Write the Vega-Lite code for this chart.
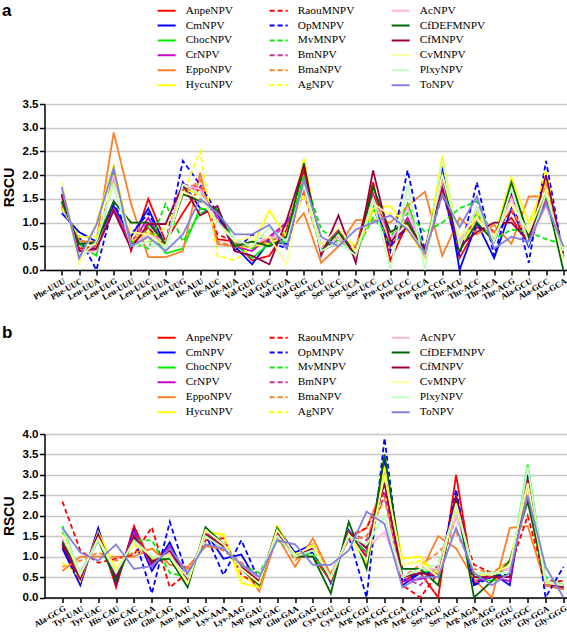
{
"$schema": "https://vega.github.io/schema/vega-lite/v6.json",
"padding": {"left": 1.5, "top": 1, "right": 0, "bottom": 0},
"background": "white",
"config": {
  "view": {"stroke": null},
  "axis": {"domainColor": "#000", "domainWidth": 1.5, "tickColor": "#000", "tickWidth": 1.5, "tickSize": 5, "labelColor": "#000", "titleColor": "#000"},
  "title": {"font": "Liberation Sans", "fontSize": 17, "fontWeight": "bold", "anchor": "start", "frame": "bounds", "baseline": "alphabetic", "color": "#000"},
  "legend": {"title": null, "orient": "none", "columns": 3, "direction": "vertical", "symbolType": "M-2,0H2", "symbolSize": 81, "symbolStrokeWidth": 2, "labelOffset": 13.5, "columnPadding": 32, "rowPadding": 2.9, "labelFont": "Liberation Serif", "labelFontSize": 11.3, "labelColor": "#000", "gridAlign": "each"}
},
"spacing": 164,
"bounds": "flush",
"resolve": {"scale": {"color": "independent", "strokeDash": "independent", "x": "independent", "y": "independent"}, "legend": {"color": "independent", "strokeDash": "independent"}},
"datasets": {
"a": [
{"s":"AnpeNPV","i":0,"r":1.55},{"s":"AnpeNPV","i":1,"r":0.45},{"s":"AnpeNPV","i":2,"r":0.5},{"s":"AnpeNPV","i":3,"r":2.0},{"s":"AnpeNPV","i":4,"r":0.4},{"s":"AnpeNPV","i":5,"r":1.5},{"s":"AnpeNPV","i":6,"r":0.6},{"s":"AnpeNPV","i":7,"r":1.2},{"s":"AnpeNPV","i":8,"r":1.75},{"s":"AnpeNPV","i":9,"r":0.65},{"s":"AnpeNPV","i":10,"r":0.6},{"s":"AnpeNPV","i":11,"r":0.2},{"s":"AnpeNPV","i":12,"r":0.3},{"s":"AnpeNPV","i":13,"r":0.85},{"s":"AnpeNPV","i":14,"r":2.1},{"s":"AnpeNPV","i":15,"r":0.4},{"s":"AnpeNPV","i":16,"r":0.6},{"s":"AnpeNPV","i":17,"r":0.45},{"s":"AnpeNPV","i":18,"r":1.85},{"s":"AnpeNPV","i":19,"r":0.2},{"s":"AnpeNPV","i":20,"r":1.0},{"s":"AnpeNPV","i":21,"r":0.3},{"s":"AnpeNPV","i":22,"r":1.75},{"s":"AnpeNPV","i":23,"r":0.25},{"s":"AnpeNPV","i":24,"r":0.9},{"s":"AnpeNPV","i":25,"r":0.8},{"s":"AnpeNPV","i":26,"r":1.1},{"s":"AnpeNPV","i":27,"r":0.55},{"s":"AnpeNPV","i":28,"r":1.6},{"s":"AnpeNPV","i":29,"r":0.3},
{"s":"CmNPV","i":0,"r":1.2},{"s":"CmNPV","i":1,"r":0.8},{"s":"CmNPV","i":2,"r":0.6},{"s":"CmNPV","i":3,"r":1.35},{"s":"CmNPV","i":4,"r":0.7},{"s":"CmNPV","i":5,"r":1.3},{"s":"CmNPV","i":6,"r":0.5},{"s":"CmNPV","i":7,"r":1.85},{"s":"CmNPV","i":8,"r":1.3},{"s":"CmNPV","i":9,"r":1.2},{"s":"CmNPV","i":10,"r":0.5},{"s":"CmNPV","i":11,"r":0.12},{"s":"CmNPV","i":12,"r":0.6},{"s":"CmNPV","i":13,"r":0.55},{"s":"CmNPV","i":14,"r":1.8},{"s":"CmNPV","i":15,"r":0.5},{"s":"CmNPV","i":16,"r":0.7},{"s":"CmNPV","i":17,"r":0.3},{"s":"CmNPV","i":18,"r":1.4},{"s":"CmNPV","i":19,"r":0.5},{"s":"CmNPV","i":20,"r":0.9},{"s":"CmNPV","i":21,"r":0.3},{"s":"CmNPV","i":22,"r":2.2},{"s":"CmNPV","i":23,"r":0.0},{"s":"CmNPV","i":24,"r":1.0},{"s":"CmNPV","i":25,"r":0.25},{"s":"CmNPV","i":26,"r":1.3},{"s":"CmNPV","i":27,"r":0.5},{"s":"CmNPV","i":28,"r":1.5},{"s":"CmNPV","i":29,"r":0.3},
{"s":"ChocNPV","i":0,"r":1.45},{"s":"ChocNPV","i":1,"r":0.55},{"s":"ChocNPV","i":2,"r":0.3},{"s":"ChocNPV","i":3,"r":2.1},{"s":"ChocNPV","i":4,"r":0.5},{"s":"ChocNPV","i":5,"r":0.9},{"s":"ChocNPV","i":6,"r":0.35},{"s":"ChocNPV","i":7,"r":0.45},{"s":"ChocNPV","i":8,"r":1.3},{"s":"ChocNPV","i":9,"r":1.25},{"s":"ChocNPV","i":10,"r":0.55},{"s":"ChocNPV","i":11,"r":0.25},{"s":"ChocNPV","i":12,"r":0.55},{"s":"ChocNPV","i":13,"r":0.6},{"s":"ChocNPV","i":14,"r":1.95},{"s":"ChocNPV","i":15,"r":0.45},{"s":"ChocNPV","i":16,"r":0.7},{"s":"ChocNPV","i":17,"r":0.3},{"s":"ChocNPV","i":18,"r":1.3},{"s":"ChocNPV","i":19,"r":0.5},{"s":"ChocNPV","i":20,"r":1.4},{"s":"ChocNPV","i":21,"r":0.35},{"s":"ChocNPV","i":22,"r":1.9},{"s":"ChocNPV","i":23,"r":0.6},{"s":"ChocNPV","i":24,"r":1.2},{"s":"ChocNPV","i":25,"r":0.6},{"s":"ChocNPV","i":26,"r":1.6},{"s":"ChocNPV","i":27,"r":0.6},{"s":"ChocNPV","i":28,"r":1.6},{"s":"ChocNPV","i":29,"r":0.3},
{"s":"CrNPV","i":0,"r":1.6},{"s":"CrNPV","i":1,"r":0.4},{"s":"CrNPV","i":2,"r":0.45},{"s":"CrNPV","i":3,"r":1.3},{"s":"CrNPV","i":4,"r":0.55},{"s":"CrNPV","i":5,"r":1.1},{"s":"CrNPV","i":6,"r":0.5},{"s":"CrNPV","i":7,"r":1.75},{"s":"CrNPV","i":8,"r":1.7},{"s":"CrNPV","i":9,"r":1.1},{"s":"CrNPV","i":10,"r":0.5},{"s":"CrNPV","i":11,"r":0.4},{"s":"CrNPV","i":12,"r":0.7},{"s":"CrNPV","i":13,"r":1.0},{"s":"CrNPV","i":14,"r":1.65},{"s":"CrNPV","i":15,"r":0.5},{"s":"CrNPV","i":16,"r":0.85},{"s":"CrNPV","i":17,"r":0.3},{"s":"CrNPV","i":18,"r":1.6},{"s":"CrNPV","i":19,"r":0.6},{"s":"CrNPV","i":20,"r":1.1},{"s":"CrNPV","i":21,"r":0.3},{"s":"CrNPV","i":22,"r":1.8},{"s":"CrNPV","i":23,"r":0.5},{"s":"CrNPV","i":24,"r":1.3},{"s":"CrNPV","i":25,"r":0.6},{"s":"CrNPV","i":26,"r":1.65},{"s":"CrNPV","i":27,"r":0.55},{"s":"CrNPV","i":28,"r":1.5},{"s":"CrNPV","i":29,"r":0.3},
{"s":"EppoNPV","i":0,"r":1.4},{"s":"EppoNPV","i":1,"r":0.6},{"s":"EppoNPV","i":2,"r":0.6},{"s":"EppoNPV","i":3,"r":2.9},{"s":"EppoNPV","i":4,"r":1.4},{"s":"EppoNPV","i":5,"r":0.27},{"s":"EppoNPV","i":6,"r":0.27},{"s":"EppoNPV","i":7,"r":0.4},{"s":"EppoNPV","i":8,"r":2.05},{"s":"EppoNPV","i":9,"r":0.55},{"s":"EppoNPV","i":10,"r":0.5},{"s":"EppoNPV","i":11,"r":0.5},{"s":"EppoNPV","i":12,"r":0.6},{"s":"EppoNPV","i":13,"r":0.75},{"s":"EppoNPV","i":14,"r":1.2},{"s":"EppoNPV","i":15,"r":0.15},{"s":"EppoNPV","i":16,"r":0.5},{"s":"EppoNPV","i":17,"r":1.05},{"s":"EppoNPV","i":18,"r":1.05},{"s":"EppoNPV","i":19,"r":1.0},{"s":"EppoNPV","i":20,"r":1.35},{"s":"EppoNPV","i":21,"r":1.65},{"s":"EppoNPV","i":22,"r":0.3},{"s":"EppoNPV","i":23,"r":1.1},{"s":"EppoNPV","i":24,"r":0.75},{"s":"EppoNPV","i":25,"r":0.95},{"s":"EppoNPV","i":26,"r":0.55},{"s":"EppoNPV","i":27,"r":1.55},{"s":"EppoNPV","i":28,"r":1.55},{"s":"EppoNPV","i":29,"r":0.4},
{"s":"HycuNPV","i":0,"r":1.85},{"s":"HycuNPV","i":1,"r":0.15},{"s":"HycuNPV","i":2,"r":1.0},{"s":"HycuNPV","i":3,"r":2.2},{"s":"HycuNPV","i":4,"r":0.6},{"s":"HycuNPV","i":5,"r":0.8},{"s":"HycuNPV","i":6,"r":0.5},{"s":"HycuNPV","i":7,"r":1.7},{"s":"HycuNPV","i":8,"r":1.6},{"s":"HycuNPV","i":9,"r":1.05},{"s":"HycuNPV","i":10,"r":0.5},{"s":"HycuNPV","i":11,"r":0.5},{"s":"HycuNPV","i":12,"r":1.25},{"s":"HycuNPV","i":13,"r":0.7},{"s":"HycuNPV","i":14,"r":2.35},{"s":"HycuNPV","i":15,"r":0.4},{"s":"HycuNPV","i":16,"r":0.8},{"s":"HycuNPV","i":17,"r":0.5},{"s":"HycuNPV","i":18,"r":1.3},{"s":"HycuNPV","i":19,"r":1.35},{"s":"HycuNPV","i":20,"r":0.9},{"s":"HycuNPV","i":21,"r":0.25},{"s":"HycuNPV","i":22,"r":2.4},{"s":"HycuNPV","i":23,"r":0.5},{"s":"HycuNPV","i":24,"r":1.1},{"s":"HycuNPV","i":25,"r":0.7},{"s":"HycuNPV","i":26,"r":1.95},{"s":"HycuNPV","i":27,"r":1.0},{"s":"HycuNPV","i":28,"r":1.85},{"s":"HycuNPV","i":29,"r":0.25},
{"s":"RaouMNPV","i":0,"r":1.6},{"s":"RaouMNPV","i":1,"r":0.4},{"s":"RaouMNPV","i":2,"r":0.4},{"s":"RaouMNPV","i":3,"r":2.0},{"s":"RaouMNPV","i":4,"r":0.5},{"s":"RaouMNPV","i":5,"r":0.9},{"s":"RaouMNPV","i":6,"r":0.5},{"s":"RaouMNPV","i":7,"r":1.7},{"s":"RaouMNPV","i":8,"r":1.7},{"s":"RaouMNPV","i":9,"r":0.75},{"s":"RaouMNPV","i":10,"r":0.6},{"s":"RaouMNPV","i":11,"r":0.5},{"s":"RaouMNPV","i":12,"r":0.65},{"s":"RaouMNPV","i":13,"r":0.7},{"s":"RaouMNPV","i":14,"r":1.9},{"s":"RaouMNPV","i":15,"r":0.4},{"s":"RaouMNPV","i":16,"r":0.6},{"s":"RaouMNPV","i":17,"r":0.4},{"s":"RaouMNPV","i":18,"r":1.6},{"s":"RaouMNPV","i":19,"r":0.5},{"s":"RaouMNPV","i":20,"r":0.9},{"s":"RaouMNPV","i":21,"r":0.3},{"s":"RaouMNPV","i":22,"r":1.6},{"s":"RaouMNPV","i":23,"r":0.6},{"s":"RaouMNPV","i":24,"r":1.1},{"s":"RaouMNPV","i":25,"r":0.8},{"s":"RaouMNPV","i":26,"r":1.25},{"s":"RaouMNPV","i":27,"r":0.6},{"s":"RaouMNPV","i":28,"r":1.4},{"s":"RaouMNPV","i":29,"r":0.3},
{"s":"OpMNPV","i":0,"r":1.3},{"s":"OpMNPV","i":1,"r":0.7},{"s":"OpMNPV","i":2,"r":0.0},{"s":"OpMNPV","i":3,"r":1.4},{"s":"OpMNPV","i":4,"r":0.75},{"s":"OpMNPV","i":5,"r":1.2},{"s":"OpMNPV","i":6,"r":0.55},{"s":"OpMNPV","i":7,"r":2.3},{"s":"OpMNPV","i":8,"r":1.8},{"s":"OpMNPV","i":9,"r":1.2},{"s":"OpMNPV","i":10,"r":0.4},{"s":"OpMNPV","i":11,"r":0.75},{"s":"OpMNPV","i":12,"r":0.6},{"s":"OpMNPV","i":13,"r":0.45},{"s":"OpMNPV","i":14,"r":1.8},{"s":"OpMNPV","i":15,"r":0.5},{"s":"OpMNPV","i":16,"r":0.6},{"s":"OpMNPV","i":17,"r":0.45},{"s":"OpMNPV","i":18,"r":1.5},{"s":"OpMNPV","i":19,"r":0.4},{"s":"OpMNPV","i":20,"r":2.1},{"s":"OpMNPV","i":21,"r":0.4},{"s":"OpMNPV","i":22,"r":1.7},{"s":"OpMNPV","i":23,"r":0.3},{"s":"OpMNPV","i":24,"r":1.85},{"s":"OpMNPV","i":25,"r":0.3},{"s":"OpMNPV","i":26,"r":1.6},{"s":"OpMNPV","i":27,"r":0.15},{"s":"OpMNPV","i":28,"r":2.3},{"s":"OpMNPV","i":29,"r":0.3},
{"s":"MvMNPV","i":0,"r":1.45},{"s":"MvMNPV","i":1,"r":0.55},{"s":"MvMNPV","i":2,"r":0.55},{"s":"MvMNPV","i":3,"r":1.9},{"s":"MvMNPV","i":4,"r":0.6},{"s":"MvMNPV","i":5,"r":0.45},{"s":"MvMNPV","i":6,"r":1.4},{"s":"MvMNPV","i":7,"r":0.6},{"s":"MvMNPV","i":8,"r":1.2},{"s":"MvMNPV","i":9,"r":1.3},{"s":"MvMNPV","i":10,"r":0.6},{"s":"MvMNPV","i":11,"r":0.45},{"s":"MvMNPV","i":12,"r":0.7},{"s":"MvMNPV","i":13,"r":0.6},{"s":"MvMNPV","i":14,"r":2.0},{"s":"MvMNPV","i":15,"r":0.85},{"s":"MvMNPV","i":16,"r":0.6},{"s":"MvMNPV","i":17,"r":0.4},{"s":"MvMNPV","i":18,"r":1.1},{"s":"MvMNPV","i":19,"r":0.7},{"s":"MvMNPV","i":20,"r":1.2},{"s":"MvMNPV","i":21,"r":0.8},{"s":"MvMNPV","i":22,"r":1.0},{"s":"MvMNPV","i":23,"r":1.3},{"s":"MvMNPV","i":24,"r":1.45},{"s":"MvMNPV","i":25,"r":0.65},{"s":"MvMNPV","i":26,"r":0.85},{"s":"MvMNPV","i":27,"r":0.8},{"s":"MvMNPV","i":28,"r":0.65},{"s":"MvMNPV","i":29,"r":0.55},
{"s":"BmNPV","i":0,"r":1.6},{"s":"BmNPV","i":1,"r":0.4},{"s":"BmNPV","i":2,"r":0.5},{"s":"BmNPV","i":3,"r":1.3},{"s":"BmNPV","i":4,"r":0.6},{"s":"BmNPV","i":5,"r":1.0},{"s":"BmNPV","i":6,"r":0.55},{"s":"BmNPV","i":7,"r":1.8},{"s":"BmNPV","i":8,"r":1.75},{"s":"BmNPV","i":9,"r":1.05},{"s":"BmNPV","i":10,"r":0.6},{"s":"BmNPV","i":11,"r":0.5},{"s":"BmNPV","i":12,"r":0.65},{"s":"BmNPV","i":13,"r":0.95},{"s":"BmNPV","i":14,"r":1.6},{"s":"BmNPV","i":15,"r":0.45},{"s":"BmNPV","i":16,"r":0.85},{"s":"BmNPV","i":17,"r":0.3},{"s":"BmNPV","i":18,"r":1.6},{"s":"BmNPV","i":19,"r":0.65},{"s":"BmNPV","i":20,"r":1.05},{"s":"BmNPV","i":21,"r":0.3},{"s":"BmNPV","i":22,"r":1.75},{"s":"BmNPV","i":23,"r":0.55},{"s":"BmNPV","i":24,"r":1.3},{"s":"BmNPV","i":25,"r":0.6},{"s":"BmNPV","i":26,"r":1.6},{"s":"BmNPV","i":27,"r":0.6},{"s":"BmNPV","i":28,"r":1.5},{"s":"BmNPV","i":29,"r":0.3},
{"s":"BmaNPV","i":0,"r":1.35},{"s":"BmaNPV","i":1,"r":0.65},{"s":"BmaNPV","i":2,"r":0.5},{"s":"BmaNPV","i":3,"r":2.0},{"s":"BmaNPV","i":4,"r":0.65},{"s":"BmaNPV","i":5,"r":0.8},{"s":"BmaNPV","i":6,"r":0.5},{"s":"BmaNPV","i":7,"r":1.6},{"s":"BmaNPV","i":8,"r":1.9},{"s":"BmaNPV","i":9,"r":0.6},{"s":"BmaNPV","i":10,"r":0.5},{"s":"BmaNPV","i":11,"r":0.5},{"s":"BmaNPV","i":12,"r":0.7},{"s":"BmaNPV","i":13,"r":0.7},{"s":"BmaNPV","i":14,"r":1.7},{"s":"BmaNPV","i":15,"r":0.4},{"s":"BmaNPV","i":16,"r":0.6},{"s":"BmaNPV","i":17,"r":0.5},{"s":"BmaNPV","i":18,"r":1.5},{"s":"BmaNPV","i":19,"r":0.8},{"s":"BmaNPV","i":20,"r":1.0},{"s":"BmaNPV","i":21,"r":0.4},{"s":"BmaNPV","i":22,"r":1.7},{"s":"BmaNPV","i":23,"r":0.7},{"s":"BmaNPV","i":24,"r":1.1},{"s":"BmaNPV","i":25,"r":0.8},{"s":"BmaNPV","i":26,"r":1.3},{"s":"BmaNPV","i":27,"r":0.6},{"s":"BmaNPV","i":28,"r":1.8},{"s":"BmaNPV","i":29,"r":0.25},
{"s":"AgNPV","i":0,"r":1.3},{"s":"AgNPV","i":1,"r":0.7},{"s":"AgNPV","i":2,"r":0.7},{"s":"AgNPV","i":3,"r":1.8},{"s":"AgNPV","i":4,"r":0.8},{"s":"AgNPV","i":5,"r":0.6},{"s":"AgNPV","i":6,"r":0.9},{"s":"AgNPV","i":7,"r":1.6},{"s":"AgNPV","i":8,"r":2.5},{"s":"AgNPV","i":9,"r":0.3},{"s":"AgNPV","i":10,"r":0.2},{"s":"AgNPV","i":11,"r":0.5},{"s":"AgNPV","i":12,"r":0.55},{"s":"AgNPV","i":13,"r":0.7},{"s":"AgNPV","i":14,"r":1.6},{"s":"AgNPV","i":15,"r":0.5},{"s":"AgNPV","i":16,"r":0.7},{"s":"AgNPV","i":17,"r":0.4},{"s":"AgNPV","i":18,"r":1.2},{"s":"AgNPV","i":19,"r":1.2},{"s":"AgNPV","i":20,"r":0.8},{"s":"AgNPV","i":21,"r":0.3},{"s":"AgNPV","i":22,"r":2.0},{"s":"AgNPV","i":23,"r":0.6},{"s":"AgNPV","i":24,"r":1.2},{"s":"AgNPV","i":25,"r":0.7},{"s":"AgNPV","i":26,"r":1.5},{"s":"AgNPV","i":27,"r":0.8},{"s":"AgNPV","i":28,"r":2.1},{"s":"AgNPV","i":29,"r":0.25},
{"s":"AcNPV","i":0,"r":1.65},{"s":"AcNPV","i":1,"r":0.35},{"s":"AcNPV","i":2,"r":0.4},{"s":"AcNPV","i":3,"r":2.0},{"s":"AcNPV","i":4,"r":0.5},{"s":"AcNPV","i":5,"r":0.75},{"s":"AcNPV","i":6,"r":0.6},{"s":"AcNPV","i":7,"r":1.8},{"s":"AcNPV","i":8,"r":1.7},{"s":"AcNPV","i":9,"r":1.0},{"s":"AcNPV","i":10,"r":0.6},{"s":"AcNPV","i":11,"r":0.5},{"s":"AcNPV","i":12,"r":0.7},{"s":"AcNPV","i":13,"r":0.65},{"s":"AcNPV","i":14,"r":1.8},{"s":"AcNPV","i":15,"r":0.45},{"s":"AcNPV","i":16,"r":0.7},{"s":"AcNPV","i":17,"r":0.3},{"s":"AcNPV","i":18,"r":1.5},{"s":"AcNPV","i":19,"r":0.6},{"s":"AcNPV","i":20,"r":1.3},{"s":"AcNPV","i":21,"r":0.3},{"s":"AcNPV","i":22,"r":1.9},{"s":"AcNPV","i":23,"r":0.6},{"s":"AcNPV","i":24,"r":1.3},{"s":"AcNPV","i":25,"r":0.7},{"s":"AcNPV","i":26,"r":1.5},{"s":"AcNPV","i":27,"r":0.6},{"s":"AcNPV","i":28,"r":1.35},{"s":"AcNPV","i":29,"r":0.35},
{"s":"CfDEFMNPV","i":0,"r":1.45},{"s":"CfDEFMNPV","i":1,"r":0.55},{"s":"CfDEFMNPV","i":2,"r":0.58},{"s":"CfDEFMNPV","i":3,"r":1.45},{"s":"CfDEFMNPV","i":4,"r":1.0},{"s":"CfDEFMNPV","i":5,"r":1.0},{"s":"CfDEFMNPV","i":6,"r":0.55},{"s":"CfDEFMNPV","i":7,"r":1.6},{"s":"CfDEFMNPV","i":8,"r":1.45},{"s":"CfDEFMNPV","i":9,"r":1.25},{"s":"CfDEFMNPV","i":10,"r":0.5},{"s":"CfDEFMNPV","i":11,"r":0.6},{"s":"CfDEFMNPV","i":12,"r":0.5},{"s":"CfDEFMNPV","i":13,"r":0.7},{"s":"CfDEFMNPV","i":14,"r":2.25},{"s":"CfDEFMNPV","i":15,"r":0.4},{"s":"CfDEFMNPV","i":16,"r":0.8},{"s":"CfDEFMNPV","i":17,"r":0.3},{"s":"CfDEFMNPV","i":18,"r":1.75},{"s":"CfDEFMNPV","i":19,"r":0.8},{"s":"CfDEFMNPV","i":20,"r":1.0},{"s":"CfDEFMNPV","i":21,"r":0.4},{"s":"CfDEFMNPV","i":22,"r":2.0},{"s":"CfDEFMNPV","i":23,"r":0.4},{"s":"CfDEFMNPV","i":24,"r":1.0},{"s":"CfDEFMNPV","i":25,"r":0.6},{"s":"CfDEFMNPV","i":26,"r":1.85},{"s":"CfDEFMNPV","i":27,"r":0.7},{"s":"CfDEFMNPV","i":28,"r":1.6},{"s":"CfDEFMNPV","i":29,"r":0.0},
{"s":"CfMNPV","i":0,"r":1.6},{"s":"CfMNPV","i":1,"r":0.4},{"s":"CfMNPV","i":2,"r":0.45},{"s":"CfMNPV","i":3,"r":1.25},{"s":"CfMNPV","i":4,"r":0.45},{"s":"CfMNPV","i":5,"r":0.97},{"s":"CfMNPV","i":6,"r":0.97},{"s":"CfMNPV","i":7,"r":1.8},{"s":"CfMNPV","i":8,"r":1.15},{"s":"CfMNPV","i":9,"r":1.35},{"s":"CfMNPV","i":10,"r":0.4},{"s":"CfMNPV","i":11,"r":0.3},{"s":"CfMNPV","i":12,"r":0.12},{"s":"CfMNPV","i":13,"r":1.05},{"s":"CfMNPV","i":14,"r":2.2},{"s":"CfMNPV","i":15,"r":0.3},{"s":"CfMNPV","i":16,"r":1.15},{"s":"CfMNPV","i":17,"r":0.15},{"s":"CfMNPV","i":18,"r":2.1},{"s":"CfMNPV","i":19,"r":0.6},{"s":"CfMNPV","i":20,"r":0.9},{"s":"CfMNPV","i":21,"r":0.45},{"s":"CfMNPV","i":22,"r":1.7},{"s":"CfMNPV","i":23,"r":0.5},{"s":"CfMNPV","i":24,"r":0.8},{"s":"CfMNPV","i":25,"r":1.0},{"s":"CfMNPV","i":26,"r":1.0},{"s":"CfMNPV","i":27,"r":0.6},{"s":"CfMNPV","i":28,"r":2.0},{"s":"CfMNPV","i":29,"r":0.35},
{"s":"CvMNPV","i":0,"r":1.85},{"s":"CvMNPV","i":1,"r":0.12},{"s":"CvMNPV","i":2,"r":1.0},{"s":"CvMNPV","i":3,"r":1.8},{"s":"CvMNPV","i":4,"r":0.8},{"s":"CvMNPV","i":5,"r":0.75},{"s":"CvMNPV","i":6,"r":0.5},{"s":"CvMNPV","i":7,"r":1.65},{"s":"CvMNPV","i":8,"r":1.5},{"s":"CvMNPV","i":9,"r":1.0},{"s":"CvMNPV","i":10,"r":0.6},{"s":"CvMNPV","i":11,"r":0.7},{"s":"CvMNPV","i":12,"r":0.7},{"s":"CvMNPV","i":13,"r":0.12},{"s":"CvMNPV","i":14,"r":1.9},{"s":"CvMNPV","i":15,"r":0.5},{"s":"CvMNPV","i":16,"r":0.9},{"s":"CvMNPV","i":17,"r":0.4},{"s":"CvMNPV","i":18,"r":1.4},{"s":"CvMNPV","i":19,"r":1.15},{"s":"CvMNPV","i":20,"r":0.9},{"s":"CvMNPV","i":21,"r":0.35},{"s":"CvMNPV","i":22,"r":2.0},{"s":"CvMNPV","i":23,"r":0.7},{"s":"CvMNPV","i":24,"r":1.1},{"s":"CvMNPV","i":25,"r":0.7},{"s":"CvMNPV","i":26,"r":1.4},{"s":"CvMNPV","i":27,"r":0.8},{"s":"CvMNPV","i":28,"r":1.7},{"s":"CvMNPV","i":29,"r":0.2},
{"s":"PlxyNPV","i":0,"r":1.75},{"s":"PlxyNPV","i":1,"r":0.25},{"s":"PlxyNPV","i":2,"r":0.6},{"s":"PlxyNPV","i":3,"r":1.8},{"s":"PlxyNPV","i":4,"r":0.5},{"s":"PlxyNPV","i":5,"r":0.6},{"s":"PlxyNPV","i":6,"r":0.4},{"s":"PlxyNPV","i":7,"r":1.8},{"s":"PlxyNPV","i":8,"r":1.6},{"s":"PlxyNPV","i":9,"r":1.0},{"s":"PlxyNPV","i":10,"r":0.65},{"s":"PlxyNPV","i":11,"r":0.5},{"s":"PlxyNPV","i":12,"r":0.9},{"s":"PlxyNPV","i":13,"r":0.6},{"s":"PlxyNPV","i":14,"r":1.8},{"s":"PlxyNPV","i":15,"r":0.4},{"s":"PlxyNPV","i":16,"r":0.6},{"s":"PlxyNPV","i":17,"r":0.3},{"s":"PlxyNPV","i":18,"r":1.5},{"s":"PlxyNPV","i":19,"r":0.0},{"s":"PlxyNPV","i":20,"r":1.8},{"s":"PlxyNPV","i":21,"r":0.0},{"s":"PlxyNPV","i":22,"r":2.3},{"s":"PlxyNPV","i":23,"r":0.5},{"s":"PlxyNPV","i":24,"r":1.3},{"s":"PlxyNPV","i":25,"r":0.6},{"s":"PlxyNPV","i":26,"r":1.7},{"s":"PlxyNPV","i":27,"r":0.55},{"s":"PlxyNPV","i":28,"r":1.6},{"s":"PlxyNPV","i":29,"r":0.4},
{"s":"ToNPV","i":0,"r":1.75},{"s":"ToNPV","i":1,"r":0.25},{"s":"ToNPV","i":2,"r":0.95},{"s":"ToNPV","i":3,"r":2.15},{"s":"ToNPV","i":4,"r":0.5},{"s":"ToNPV","i":5,"r":0.7},{"s":"ToNPV","i":6,"r":0.4},{"s":"ToNPV","i":7,"r":0.75},{"s":"ToNPV","i":8,"r":1.5},{"s":"ToNPV","i":9,"r":1.2},{"s":"ToNPV","i":10,"r":0.75},{"s":"ToNPV","i":11,"r":0.75},{"s":"ToNPV","i":12,"r":0.95},{"s":"ToNPV","i":13,"r":0.45},{"s":"ToNPV","i":14,"r":1.9},{"s":"ToNPV","i":15,"r":0.7},{"s":"ToNPV","i":16,"r":0.5},{"s":"ToNPV","i":17,"r":0.85},{"s":"ToNPV","i":18,"r":1.0},{"s":"ToNPV","i":19,"r":1.15},{"s":"ToNPV","i":20,"r":0.85},{"s":"ToNPV","i":21,"r":0.35},{"s":"ToNPV","i":22,"r":1.6},{"s":"ToNPV","i":23,"r":0.9},{"s":"ToNPV","i":24,"r":1.55},{"s":"ToNPV","i":25,"r":0.45},{"s":"ToNPV","i":26,"r":0.7},{"s":"ToNPV","i":27,"r":0.6},{"s":"ToNPV","i":28,"r":1.4},{"s":"ToNPV","i":29,"r":0.5}
],
"b": [
{"s":"AnpeNPV","i":0,"r":1.25},{"s":"AnpeNPV","i":1,"r":0.35},{"s":"AnpeNPV","i":2,"r":1.65},{"s":"AnpeNPV","i":3,"r":0.25},{"s":"AnpeNPV","i":4,"r":1.75},{"s":"AnpeNPV","i":5,"r":0.8},{"s":"AnpeNPV","i":6,"r":1.2},{"s":"AnpeNPV","i":7,"r":0.4},{"s":"AnpeNPV","i":8,"r":1.6},{"s":"AnpeNPV","i":9,"r":1.2},{"s":"AnpeNPV","i":10,"r":0.8},{"s":"AnpeNPV","i":11,"r":0.35},{"s":"AnpeNPV","i":12,"r":1.65},{"s":"AnpeNPV","i":13,"r":1.0},{"s":"AnpeNPV","i":14,"r":1.0},{"s":"AnpeNPV","i":15,"r":0.4},{"s":"AnpeNPV","i":16,"r":1.6},{"s":"AnpeNPV","i":17,"r":1.0},{"s":"AnpeNPV","i":18,"r":3.0},{"s":"AnpeNPV","i":19,"r":0.4},{"s":"AnpeNPV","i":20,"r":0.6},{"s":"AnpeNPV","i":21,"r":0.0},{"s":"AnpeNPV","i":22,"r":3.0},{"s":"AnpeNPV","i":23,"r":0.35},{"s":"AnpeNPV","i":24,"r":0.55},{"s":"AnpeNPV","i":25,"r":0.5},{"s":"AnpeNPV","i":26,"r":2.8},{"s":"AnpeNPV","i":27,"r":0.3},{"s":"AnpeNPV","i":28,"r":0.3},
{"s":"CmNPV","i":0,"r":1.2},{"s":"CmNPV","i":1,"r":0.3},{"s":"CmNPV","i":2,"r":1.7},{"s":"CmNPV","i":3,"r":0.35},{"s":"CmNPV","i":4,"r":1.65},{"s":"CmNPV","i":5,"r":0.65},{"s":"CmNPV","i":6,"r":1.35},{"s":"CmNPV","i":7,"r":0.4},{"s":"CmNPV","i":8,"r":1.6},{"s":"CmNPV","i":9,"r":0.95},{"s":"CmNPV","i":10,"r":1.05},{"s":"CmNPV","i":11,"r":0.3},{"s":"CmNPV","i":12,"r":1.7},{"s":"CmNPV","i":13,"r":1.1},{"s":"CmNPV","i":14,"r":1.3},{"s":"CmNPV","i":15,"r":0.35},{"s":"CmNPV","i":16,"r":1.65},{"s":"CmNPV","i":17,"r":0.9},{"s":"CmNPV","i":18,"r":3.4},{"s":"CmNPV","i":19,"r":0.3},{"s":"CmNPV","i":20,"r":0.6},{"s":"CmNPV","i":21,"r":0.6},{"s":"CmNPV","i":22,"r":2.3},{"s":"CmNPV","i":23,"r":0.3},{"s":"CmNPV","i":24,"r":0.6},{"s":"CmNPV","i":25,"r":0.3},{"s":"CmNPV","i":26,"r":3.0},{"s":"CmNPV","i":27,"r":0.3},{"s":"CmNPV","i":28,"r":0.2},
{"s":"ChocNPV","i":0,"r":1.75},{"s":"ChocNPV","i":1,"r":0.55},{"s":"ChocNPV","i":2,"r":1.45},{"s":"ChocNPV","i":3,"r":0.5},{"s":"ChocNPV","i":4,"r":1.5},{"s":"ChocNPV","i":5,"r":0.9},{"s":"ChocNPV","i":6,"r":1.1},{"s":"ChocNPV","i":7,"r":0.45},{"s":"ChocNPV","i":8,"r":1.55},{"s":"ChocNPV","i":9,"r":1.2},{"s":"ChocNPV","i":10,"r":0.8},{"s":"ChocNPV","i":11,"r":0.45},{"s":"ChocNPV","i":12,"r":1.55},{"s":"ChocNPV","i":13,"r":1.0},{"s":"ChocNPV","i":14,"r":1.1},{"s":"ChocNPV","i":15,"r":0.4},{"s":"ChocNPV","i":16,"r":1.6},{"s":"ChocNPV","i":17,"r":1.2},{"s":"ChocNPV","i":18,"r":2.9},{"s":"ChocNPV","i":19,"r":0.5},{"s":"ChocNPV","i":20,"r":0.6},{"s":"ChocNPV","i":21,"r":0.7},{"s":"ChocNPV","i":22,"r":2.2},{"s":"ChocNPV","i":23,"r":0.5},{"s":"ChocNPV","i":24,"r":0.4},{"s":"ChocNPV","i":25,"r":0.6},{"s":"ChocNPV","i":26,"r":3.25},{"s":"ChocNPV","i":27,"r":0.4},{"s":"ChocNPV","i":28,"r":0.3},
{"s":"CrNPV","i":0,"r":1.35},{"s":"CrNPV","i":1,"r":0.45},{"s":"CrNPV","i":2,"r":1.55},{"s":"CrNPV","i":3,"r":0.4},{"s":"CrNPV","i":4,"r":1.6},{"s":"CrNPV","i":5,"r":0.75},{"s":"CrNPV","i":6,"r":1.25},{"s":"CrNPV","i":7,"r":0.4},{"s":"CrNPV","i":8,"r":1.6},{"s":"CrNPV","i":9,"r":1.2},{"s":"CrNPV","i":10,"r":0.8},{"s":"CrNPV","i":11,"r":0.4},{"s":"CrNPV","i":12,"r":1.6},{"s":"CrNPV","i":13,"r":1.05},{"s":"CrNPV","i":14,"r":1.2},{"s":"CrNPV","i":15,"r":0.45},{"s":"CrNPV","i":16,"r":1.55},{"s":"CrNPV","i":17,"r":1.1},{"s":"CrNPV","i":18,"r":3.2},{"s":"CrNPV","i":19,"r":0.4},{"s":"CrNPV","i":20,"r":0.45},{"s":"CrNPV","i":21,"r":0.6},{"s":"CrNPV","i":22,"r":2.5},{"s":"CrNPV","i":23,"r":0.4},{"s":"CrNPV","i":24,"r":0.5},{"s":"CrNPV","i":25,"r":0.4},{"s":"CrNPV","i":26,"r":2.9},{"s":"CrNPV","i":27,"r":0.35},{"s":"CrNPV","i":28,"r":0.25},
{"s":"EppoNPV","i":0,"r":0.65},{"s":"EppoNPV","i":1,"r":1.0},{"s":"EppoNPV","i":2,"r":1.0},{"s":"EppoNPV","i":3,"r":1.0},{"s":"EppoNPV","i":4,"r":1.0},{"s":"EppoNPV","i":5,"r":1.2},{"s":"EppoNPV","i":6,"r":0.8},{"s":"EppoNPV","i":7,"r":0.75},{"s":"EppoNPV","i":8,"r":1.25},{"s":"EppoNPV","i":9,"r":1.2},{"s":"EppoNPV","i":10,"r":0.8},{"s":"EppoNPV","i":11,"r":0.15},{"s":"EppoNPV","i":12,"r":1.5},{"s":"EppoNPV","i":13,"r":0.75},{"s":"EppoNPV","i":14,"r":1.45},{"s":"EppoNPV","i":15,"r":0.55},{"s":"EppoNPV","i":16,"r":1.45},{"s":"EppoNPV","i":17,"r":1.7},{"s":"EppoNPV","i":18,"r":2.8},{"s":"EppoNPV","i":19,"r":0.5},{"s":"EppoNPV","i":20,"r":0.6},{"s":"EppoNPV","i":21,"r":1.5},{"s":"EppoNPV","i":22,"r":1.2},{"s":"EppoNPV","i":23,"r":0.45},{"s":"EppoNPV","i":24,"r":0.0},{"s":"EppoNPV","i":25,"r":1.7},{"s":"EppoNPV","i":26,"r":1.75},{"s":"EppoNPV","i":27,"r":0.3},{"s":"EppoNPV","i":28,"r":0.2},
{"s":"HycuNPV","i":0,"r":1.6},{"s":"HycuNPV","i":1,"r":0.4},{"s":"HycuNPV","i":2,"r":1.6},{"s":"HycuNPV","i":3,"r":0.7},{"s":"HycuNPV","i":4,"r":1.3},{"s":"HycuNPV","i":5,"r":1.0},{"s":"HycuNPV","i":6,"r":1.0},{"s":"HycuNPV","i":7,"r":0.35},{"s":"HycuNPV","i":8,"r":1.6},{"s":"HycuNPV","i":9,"r":1.55},{"s":"HycuNPV","i":10,"r":0.35},{"s":"HycuNPV","i":11,"r":0.25},{"s":"HycuNPV","i":12,"r":1.75},{"s":"HycuNPV","i":13,"r":1.0},{"s":"HycuNPV","i":14,"r":1.3},{"s":"HycuNPV","i":15,"r":0.4},{"s":"HycuNPV","i":16,"r":1.6},{"s":"HycuNPV","i":17,"r":0.8},{"s":"HycuNPV","i":18,"r":3.2},{"s":"HycuNPV","i":19,"r":0.95},{"s":"HycuNPV","i":20,"r":1.0},{"s":"HycuNPV","i":21,"r":0.5},{"s":"HycuNPV","i":22,"r":2.2},{"s":"HycuNPV","i":23,"r":0.6},{"s":"HycuNPV","i":24,"r":0.6},{"s":"HycuNPV","i":25,"r":0.8},{"s":"HycuNPV","i":26,"r":2.8},{"s":"HycuNPV","i":27,"r":0.4},{"s":"HycuNPV","i":28,"r":0.3},
{"s":"RaouMNPV","i":0,"r":2.35},{"s":"RaouMNPV","i":1,"r":1.15},{"s":"RaouMNPV","i":2,"r":0.85},{"s":"RaouMNPV","i":3,"r":0.95},{"s":"RaouMNPV","i":4,"r":1.05},{"s":"RaouMNPV","i":5,"r":1.72},{"s":"RaouMNPV","i":6,"r":0.25},{"s":"RaouMNPV","i":7,"r":0.6},{"s":"RaouMNPV","i":8,"r":1.4},{"s":"RaouMNPV","i":9,"r":1.45},{"s":"RaouMNPV","i":10,"r":0.55},{"s":"RaouMNPV","i":11,"r":0.3},{"s":"RaouMNPV","i":12,"r":1.7},{"s":"RaouMNPV","i":13,"r":1.0},{"s":"RaouMNPV","i":14,"r":1.2},{"s":"RaouMNPV","i":15,"r":0.5},{"s":"RaouMNPV","i":16,"r":1.5},{"s":"RaouMNPV","i":17,"r":1.7},{"s":"RaouMNPV","i":18,"r":2.6},{"s":"RaouMNPV","i":19,"r":0.3},{"s":"RaouMNPV","i":20,"r":0.0},{"s":"RaouMNPV","i":21,"r":0.6},{"s":"RaouMNPV","i":22,"r":2.0},{"s":"RaouMNPV","i":23,"r":0.8},{"s":"RaouMNPV","i":24,"r":0.6},{"s":"RaouMNPV","i":25,"r":0.7},{"s":"RaouMNPV","i":26,"r":2.0},{"s":"RaouMNPV","i":27,"r":0.4},{"s":"RaouMNPV","i":28,"r":0.4},
{"s":"OpMNPV","i":0,"r":1.3},{"s":"OpMNPV","i":1,"r":0.5},{"s":"OpMNPV","i":2,"r":1.5},{"s":"OpMNPV","i":3,"r":0.5},{"s":"OpMNPV","i":4,"r":1.5},{"s":"OpMNPV","i":5,"r":0.1},{"s":"OpMNPV","i":6,"r":1.85},{"s":"OpMNPV","i":7,"r":0.5},{"s":"OpMNPV","i":8,"r":1.55},{"s":"OpMNPV","i":9,"r":0.55},{"s":"OpMNPV","i":10,"r":1.4},{"s":"OpMNPV","i":11,"r":0.4},{"s":"OpMNPV","i":12,"r":1.6},{"s":"OpMNPV","i":13,"r":1.1},{"s":"OpMNPV","i":14,"r":1.1},{"s":"OpMNPV","i":15,"r":0.5},{"s":"OpMNPV","i":16,"r":1.5},{"s":"OpMNPV","i":17,"r":0.0},{"s":"OpMNPV","i":18,"r":3.9},{"s":"OpMNPV","i":19,"r":0.4},{"s":"OpMNPV","i":20,"r":0.6},{"s":"OpMNPV","i":21,"r":0.5},{"s":"OpMNPV","i":22,"r":2.65},{"s":"OpMNPV","i":23,"r":0.3},{"s":"OpMNPV","i":24,"r":0.5},{"s":"OpMNPV","i":25,"r":0.6},{"s":"OpMNPV","i":26,"r":3.0},{"s":"OpMNPV","i":27,"r":0.0},{"s":"OpMNPV","i":28,"r":0.75},
{"s":"MvMNPV","i":0,"r":1.6},{"s":"MvMNPV","i":1,"r":0.6},{"s":"MvMNPV","i":2,"r":1.4},{"s":"MvMNPV","i":3,"r":0.6},{"s":"MvMNPV","i":4,"r":1.4},{"s":"MvMNPV","i":5,"r":1.4},{"s":"MvMNPV","i":6,"r":0.6},{"s":"MvMNPV","i":7,"r":0.5},{"s":"MvMNPV","i":8,"r":1.5},{"s":"MvMNPV","i":9,"r":1.2},{"s":"MvMNPV","i":10,"r":0.8},{"s":"MvMNPV","i":11,"r":0.6},{"s":"MvMNPV","i":12,"r":1.4},{"s":"MvMNPV","i":13,"r":1.1},{"s":"MvMNPV","i":14,"r":1.0},{"s":"MvMNPV","i":15,"r":0.5},{"s":"MvMNPV","i":16,"r":1.5},{"s":"MvMNPV","i":17,"r":1.1},{"s":"MvMNPV","i":18,"r":3.0},{"s":"MvMNPV","i":19,"r":0.5},{"s":"MvMNPV","i":20,"r":0.7},{"s":"MvMNPV","i":21,"r":0.7},{"s":"MvMNPV","i":22,"r":2.3},{"s":"MvMNPV","i":23,"r":0.5},{"s":"MvMNPV","i":24,"r":0.6},{"s":"MvMNPV","i":25,"r":0.7},{"s":"MvMNPV","i":26,"r":2.8},{"s":"MvMNPV","i":27,"r":0.5},{"s":"MvMNPV","i":28,"r":0.3},
{"s":"BmNPV","i":0,"r":1.4},{"s":"BmNPV","i":1,"r":0.5},{"s":"BmNPV","i":2,"r":1.5},{"s":"BmNPV","i":3,"r":0.45},{"s":"BmNPV","i":4,"r":1.55},{"s":"BmNPV","i":5,"r":0.8},{"s":"BmNPV","i":6,"r":1.2},{"s":"BmNPV","i":7,"r":0.45},{"s":"BmNPV","i":8,"r":1.55},{"s":"BmNPV","i":9,"r":1.15},{"s":"BmNPV","i":10,"r":0.85},{"s":"BmNPV","i":11,"r":0.5},{"s":"BmNPV","i":12,"r":1.5},{"s":"BmNPV","i":13,"r":1.0},{"s":"BmNPV","i":14,"r":1.2},{"s":"BmNPV","i":15,"r":0.4},{"s":"BmNPV","i":16,"r":1.6},{"s":"BmNPV","i":17,"r":1.4},{"s":"BmNPV","i":18,"r":2.5},{"s":"BmNPV","i":19,"r":0.5},{"s":"BmNPV","i":20,"r":0.3},{"s":"BmNPV","i":21,"r":0.8},{"s":"BmNPV","i":22,"r":2.2},{"s":"BmNPV","i":23,"r":0.5},{"s":"BmNPV","i":24,"r":0.5},{"s":"BmNPV","i":25,"r":0.5},{"s":"BmNPV","i":26,"r":2.9},{"s":"BmNPV","i":27,"r":0.4},{"s":"BmNPV","i":28,"r":0.3},
{"s":"BmaNPV","i":0,"r":0.75},{"s":"BmaNPV","i":1,"r":0.9},{"s":"BmaNPV","i":2,"r":1.1},{"s":"BmaNPV","i":3,"r":0.9},{"s":"BmaNPV","i":4,"r":1.1},{"s":"BmaNPV","i":5,"r":1.2},{"s":"BmaNPV","i":6,"r":0.8},{"s":"BmaNPV","i":7,"r":0.7},{"s":"BmaNPV","i":8,"r":1.3},{"s":"BmaNPV","i":9,"r":1.15},{"s":"BmaNPV","i":10,"r":0.85},{"s":"BmaNPV","i":11,"r":0.3},{"s":"BmaNPV","i":12,"r":1.7},{"s":"BmaNPV","i":13,"r":0.9},{"s":"BmaNPV","i":14,"r":1.3},{"s":"BmaNPV","i":15,"r":0.6},{"s":"BmaNPV","i":16,"r":1.4},{"s":"BmaNPV","i":17,"r":1.5},{"s":"BmaNPV","i":18,"r":2.4},{"s":"BmaNPV","i":19,"r":0.5},{"s":"BmaNPV","i":20,"r":0.8},{"s":"BmaNPV","i":21,"r":1.1},{"s":"BmaNPV","i":22,"r":1.6},{"s":"BmaNPV","i":23,"r":0.7},{"s":"BmaNPV","i":24,"r":0.6},{"s":"BmaNPV","i":25,"r":0.9},{"s":"BmaNPV","i":26,"r":2.5},{"s":"BmaNPV","i":27,"r":0.3},{"s":"BmaNPV","i":28,"r":0.3},
{"s":"AgNPV","i":0,"r":0.85},{"s":"AgNPV","i":1,"r":0.5},{"s":"AgNPV","i":2,"r":1.5},{"s":"AgNPV","i":3,"r":0.6},{"s":"AgNPV","i":4,"r":1.4},{"s":"AgNPV","i":5,"r":0.95},{"s":"AgNPV","i":6,"r":1.05},{"s":"AgNPV","i":7,"r":0.4},{"s":"AgNPV","i":8,"r":1.6},{"s":"AgNPV","i":9,"r":1.5},{"s":"AgNPV","i":10,"r":0.5},{"s":"AgNPV","i":11,"r":0.3},{"s":"AgNPV","i":12,"r":1.7},{"s":"AgNPV","i":13,"r":1.0},{"s":"AgNPV","i":14,"r":1.3},{"s":"AgNPV","i":15,"r":0.45},{"s":"AgNPV","i":16,"r":1.55},{"s":"AgNPV","i":17,"r":0.8},{"s":"AgNPV","i":18,"r":2.9},{"s":"AgNPV","i":19,"r":0.8},{"s":"AgNPV","i":20,"r":0.9},{"s":"AgNPV","i":21,"r":0.6},{"s":"AgNPV","i":22,"r":2.1},{"s":"AgNPV","i":23,"r":0.6},{"s":"AgNPV","i":24,"r":0.5},{"s":"AgNPV","i":25,"r":0.9},{"s":"AgNPV","i":26,"r":2.8},{"s":"AgNPV","i":27,"r":0.4},{"s":"AgNPV","i":28,"r":0.3},
{"s":"AcNPV","i":0,"r":1.5},{"s":"AcNPV","i":1,"r":0.5},{"s":"AcNPV","i":2,"r":1.5},{"s":"AcNPV","i":3,"r":0.55},{"s":"AcNPV","i":4,"r":1.45},{"s":"AcNPV","i":5,"r":0.9},{"s":"AcNPV","i":6,"r":1.1},{"s":"AcNPV","i":7,"r":0.45},{"s":"AcNPV","i":8,"r":1.55},{"s":"AcNPV","i":9,"r":1.25},{"s":"AcNPV","i":10,"r":0.75},{"s":"AcNPV","i":11,"r":0.45},{"s":"AcNPV","i":12,"r":1.55},{"s":"AcNPV","i":13,"r":1.05},{"s":"AcNPV","i":14,"r":1.2},{"s":"AcNPV","i":15,"r":0.5},{"s":"AcNPV","i":16,"r":1.5},{"s":"AcNPV","i":17,"r":1.2},{"s":"AcNPV","i":18,"r":1.6},{"s":"AcNPV","i":19,"r":0.5},{"s":"AcNPV","i":20,"r":0.7},{"s":"AcNPV","i":21,"r":0.7},{"s":"AcNPV","i":22,"r":2.0},{"s":"AcNPV","i":23,"r":0.6},{"s":"AcNPV","i":24,"r":0.6},{"s":"AcNPV","i":25,"r":0.7},{"s":"AcNPV","i":26,"r":2.9},{"s":"AcNPV","i":27,"r":0.4},{"s":"AcNPV","i":28,"r":0.3},
{"s":"CfDEFMNPV","i":0,"r":1.35},{"s":"CfDEFMNPV","i":1,"r":0.6},{"s":"CfDEFMNPV","i":2,"r":1.4},{"s":"CfDEFMNPV","i":3,"r":0.4},{"s":"CfDEFMNPV","i":4,"r":1.45},{"s":"CfDEFMNPV","i":5,"r":0.9},{"s":"CfDEFMNPV","i":6,"r":0.95},{"s":"CfDEFMNPV","i":7,"r":0.25},{"s":"CfDEFMNPV","i":8,"r":1.72},{"s":"CfDEFMNPV","i":9,"r":1.3},{"s":"CfDEFMNPV","i":10,"r":0.7},{"s":"CfDEFMNPV","i":11,"r":0.3},{"s":"CfDEFMNPV","i":12,"r":1.7},{"s":"CfDEFMNPV","i":13,"r":1.0},{"s":"CfDEFMNPV","i":14,"r":1.0},{"s":"CfDEFMNPV","i":15,"r":0.1},{"s":"CfDEFMNPV","i":16,"r":1.85},{"s":"CfDEFMNPV","i":17,"r":0.7},{"s":"CfDEFMNPV","i":18,"r":3.5},{"s":"CfDEFMNPV","i":19,"r":0.7},{"s":"CfDEFMNPV","i":20,"r":0.7},{"s":"CfDEFMNPV","i":21,"r":0.3},{"s":"CfDEFMNPV","i":22,"r":2.4},{"s":"CfDEFMNPV","i":23,"r":0.0},{"s":"CfDEFMNPV","i":24,"r":0.4},{"s":"CfDEFMNPV","i":25,"r":0.9},{"s":"CfDEFMNPV","i":26,"r":2.35},{"s":"CfDEFMNPV","i":27,"r":0.35},{"s":"CfDEFMNPV","i":28,"r":0.3},
{"s":"CfMNPV","i":0,"r":1.3},{"s":"CfMNPV","i":1,"r":0.45},{"s":"CfMNPV","i":2,"r":1.55},{"s":"CfMNPV","i":3,"r":0.5},{"s":"CfMNPV","i":4,"r":1.5},{"s":"CfMNPV","i":5,"r":0.85},{"s":"CfMNPV","i":6,"r":1.15},{"s":"CfMNPV","i":7,"r":0.45},{"s":"CfMNPV","i":8,"r":1.55},{"s":"CfMNPV","i":9,"r":1.25},{"s":"CfMNPV","i":10,"r":0.75},{"s":"CfMNPV","i":11,"r":0.4},{"s":"CfMNPV","i":12,"r":1.6},{"s":"CfMNPV","i":13,"r":1.05},{"s":"CfMNPV","i":14,"r":1.2},{"s":"CfMNPV","i":15,"r":0.4},{"s":"CfMNPV","i":16,"r":1.6},{"s":"CfMNPV","i":17,"r":1.2},{"s":"CfMNPV","i":18,"r":2.8},{"s":"CfMNPV","i":19,"r":0.5},{"s":"CfMNPV","i":20,"r":0.6},{"s":"CfMNPV","i":21,"r":0.5},{"s":"CfMNPV","i":22,"r":2.5},{"s":"CfMNPV","i":23,"r":0.5},{"s":"CfMNPV","i":24,"r":0.5},{"s":"CfMNPV","i":25,"r":0.5},{"s":"CfMNPV","i":26,"r":2.9},{"s":"CfMNPV","i":27,"r":0.35},{"s":"CfMNPV","i":28,"r":0.25},
{"s":"CvMNPV","i":0,"r":1.55},{"s":"CvMNPV","i":1,"r":0.55},{"s":"CvMNPV","i":2,"r":1.45},{"s":"CvMNPV","i":3,"r":0.65},{"s":"CvMNPV","i":4,"r":1.35},{"s":"CvMNPV","i":5,"r":1.0},{"s":"CvMNPV","i":6,"r":1.0},{"s":"CvMNPV","i":7,"r":0.35},{"s":"CvMNPV","i":8,"r":1.65},{"s":"CvMNPV","i":9,"r":1.3},{"s":"CvMNPV","i":10,"r":0.7},{"s":"CvMNPV","i":11,"r":0.35},{"s":"CvMNPV","i":12,"r":1.65},{"s":"CvMNPV","i":13,"r":1.05},{"s":"CvMNPV","i":14,"r":1.25},{"s":"CvMNPV","i":15,"r":0.45},{"s":"CvMNPV","i":16,"r":1.55},{"s":"CvMNPV","i":17,"r":0.9},{"s":"CvMNPV","i":18,"r":3.0},{"s":"CvMNPV","i":19,"r":0.8},{"s":"CvMNPV","i":20,"r":0.85},{"s":"CvMNPV","i":21,"r":0.5},{"s":"CvMNPV","i":22,"r":2.3},{"s":"CvMNPV","i":23,"r":0.6},{"s":"CvMNPV","i":24,"r":0.55},{"s":"CvMNPV","i":25,"r":0.8},{"s":"CvMNPV","i":26,"r":2.8},{"s":"CvMNPV","i":27,"r":0.35},{"s":"CvMNPV","i":28,"r":0.3},
{"s":"PlxyNPV","i":0,"r":1.7},{"s":"PlxyNPV","i":1,"r":0.6},{"s":"PlxyNPV","i":2,"r":1.4},{"s":"PlxyNPV","i":3,"r":0.6},{"s":"PlxyNPV","i":4,"r":1.4},{"s":"PlxyNPV","i":5,"r":1.0},{"s":"PlxyNPV","i":6,"r":1.0},{"s":"PlxyNPV","i":7,"r":0.5},{"s":"PlxyNPV","i":8,"r":1.5},{"s":"PlxyNPV","i":9,"r":1.2},{"s":"PlxyNPV","i":10,"r":0.8},{"s":"PlxyNPV","i":11,"r":0.5},{"s":"PlxyNPV","i":12,"r":1.5},{"s":"PlxyNPV","i":13,"r":1.0},{"s":"PlxyNPV","i":14,"r":1.15},{"s":"PlxyNPV","i":15,"r":0.5},{"s":"PlxyNPV","i":16,"r":1.5},{"s":"PlxyNPV","i":17,"r":1.3},{"s":"PlxyNPV","i":18,"r":2.0},{"s":"PlxyNPV","i":19,"r":0.5},{"s":"PlxyNPV","i":20,"r":0.7},{"s":"PlxyNPV","i":21,"r":0.8},{"s":"PlxyNPV","i":22,"r":2.2},{"s":"PlxyNPV","i":23,"r":0.6},{"s":"PlxyNPV","i":24,"r":0.6},{"s":"PlxyNPV","i":25,"r":0.6},{"s":"PlxyNPV","i":26,"r":3.2},{"s":"PlxyNPV","i":27,"r":0.4},{"s":"PlxyNPV","i":28,"r":0.3},
{"s":"ToNPV","i":0,"r":1.7},{"s":"ToNPV","i":1,"r":1.1},{"s":"ToNPV","i":2,"r":0.9},{"s":"ToNPV","i":3,"r":1.3},{"s":"ToNPV","i":4,"r":0.7},{"s":"ToNPV","i":5,"r":0.77},{"s":"ToNPV","i":6,"r":1.2},{"s":"ToNPV","i":7,"r":0.6},{"s":"ToNPV","i":8,"r":1.3},{"s":"ToNPV","i":9,"r":1.2},{"s":"ToNPV","i":10,"r":0.8},{"s":"ToNPV","i":11,"r":0.5},{"s":"ToNPV","i":12,"r":1.4},{"s":"ToNPV","i":13,"r":1.3},{"s":"ToNPV","i":14,"r":0.8},{"s":"ToNPV","i":15,"r":0.8},{"s":"ToNPV","i":16,"r":1.15},{"s":"ToNPV","i":17,"r":2.1},{"s":"ToNPV","i":18,"r":1.8},{"s":"ToNPV","i":19,"r":0.25},{"s":"ToNPV","i":20,"r":0.5},{"s":"ToNPV","i":21,"r":0.5},{"s":"ToNPV","i":22,"r":1.7},{"s":"ToNPV","i":23,"r":0.6},{"s":"ToNPV","i":24,"r":0.3},{"s":"ToNPV","i":25,"r":0.6},{"s":"ToNPV","i":26,"r":2.5},{"s":"ToNPV","i":27,"r":0.75},{"s":"ToNPV","i":28,"r":0.0}
]
},
"vconcat": [
{
  "data": {"name": "a"},
  "width": 524,
  "height": 166,
  "title": {"text": "a", "offset": -14.5},
  "mark": {"type": "line", "strokeWidth": 1.8},
  "encoding": {
    "x": {"field": "i", "type": "quantitative", "scale": {"domain": [-1, 29.3], "nice": false, "zero": false},
      "axis": {"title": null, "grid": false, "values": [0,1,2,3,4,5,6,7,8,9,10,11,12,13,14,15,16,17,18,19,20,21,22,23,24,25,26,27,28,29],
        "labelExpr": "['Phe-UUU','Phe-UUC','Leu-UUA','Leu-UUG','Leu-UUU','Leu-UUC','Leu-UUA','Leu-UUG','Ile-AUU','Ile-AUC','Ile-AUA','Val-GUU','Val-GUC','Val-GUA','Val-GUG','Ser-UCU','Ser-UCC','Ser-UCA','Ser-UCC','Pro-CCU','Pro-CCC','Pro-CCA','Pro-CCG','Thr-ACU','Thr-ACC','Thr-ACA','Thr-ACG','Ala-GCU','Ala-GCC','Ala-GCA'][datum.value]",
        "labelAngle": -30, "labelAlign": "right", "labelBaseline": "top", "labelFont": "Liberation Serif", "labelFontWeight": "bold", "labelFontSize": 8.5, "labelPadding": 1, "labelOverlap": false, "labelFlush": false, "labelBound": false}},
    "y": {"field": "r", "type": "quantitative", "scale": {"domain": [0, 3.5], "nice": false},
      "axis": {"title": "RSCU", "values": [0,0.5,1,1.5,2,2.5,3,3.5], "format": ".1f", "grid": true, "gridColor": "#c8c8c8", "gridWidth": 1.5,
        "labelFont": "Liberation Sans", "labelFontWeight": "bold", "labelFontSize": 11.5, "labelPadding": 1.5, "labelOverlap": false,
        "titleFont": "Liberation Sans", "titleFontWeight": "bold", "titleFontSize": 14, "titlePadding": 6}},
    "color": {"field": "s", "type": "nominal",
      "scale": {"domain": ["AnpeNPV","CmNPV","ChocNPV","CrNPV","EppoNPV","HycuNPV","RaouMNPV","OpMNPV","MvMNPV","BmNPV","BmaNPV","AgNPV","AcNPV","CfDEFMNPV","CfMNPV","CvMNPV","PlxyNPV","ToNPV"],
        "range": ["#ff0000","#0000ff","#00ee00","#cc00cc","#ff7f27","#ffff00","#ff0000","#0000ff","#00ee00","#cc3399","#ff7f27","#ffff00","#ffb6d9","#006400","#990044","#ffff99","#c0ffc0","#8080e0"]},
      "legend": {"legendX": 116.5, "legendY": -99}},
    "strokeDash": {"field": "s", "type": "nominal",
      "scale": {"domain": ["AnpeNPV","CmNPV","ChocNPV","CrNPV","EppoNPV","HycuNPV","RaouMNPV","OpMNPV","MvMNPV","BmNPV","BmaNPV","AgNPV","AcNPV","CfDEFMNPV","CfMNPV","CvMNPV","PlxyNPV","ToNPV"],
        "range": [[1,0],[1,0],[1,0],[1,0],[1,0],[1,0],[5,3],[5,3],[5,3],[5,3],[5,3],[5,3],[1,0],[1,0],[1,0],[1,0],[1,0],[1,0]]},
      "legend": {"legendX": 116.5, "legendY": -99}}
  }
},
{
  "data": {"name": "b"},
  "width": 524,
  "height": 163.5,
  "title": {"text": "b", "offset": -10},
  "mark": {"type": "line", "strokeWidth": 1.8},
  "encoding": {
    "x": {"field": "i", "type": "quantitative", "scale": {"domain": [-1, 28.28], "nice": false, "zero": false},
      "axis": {"title": null, "grid": false, "values": [0,1,2,3,4,5,6,7,8,9,10,11,12,13,14,15,16,17,18,19,20,21,22,23,24,25,26,27,28],
        "labelExpr": "['Ala-GCG','Tyr-UAU','Tyr-UAC','His-CAU','His-CAC','Gln-CAA','Gln-CAG','Asn-AAU','Asn-AAC','Lys-AAA','Lys-AAG','Asp-GAU','Asp-GAC','Glu-GAA','Glu-GAG','Cys-UGU','Cys-UGC','Arg-CGU','Arg-CGC','Arg-CGA','Arg-CGG','Ser-AGU','Ser-AGC','Arg-AGA','Arg-AGG','Gly-GGU','Gly-GGC','Gly-GGA','Gly-GGG'][datum.value]",
        "labelAngle": -30, "labelAlign": "right", "labelBaseline": "top", "labelFont": "Liberation Serif", "labelFontWeight": "bold", "labelFontSize": 8.5, "labelPadding": 1, "labelOverlap": false, "labelFlush": false, "labelBound": false}},
    "y": {"field": "r", "type": "quantitative", "scale": {"domain": [0, 4], "nice": false},
      "axis": {"title": "RSCU", "values": [0,0.5,1,1.5,2,2.5,3,3.5,4], "format": ".1f", "grid": true, "gridColor": "#c8c8c8", "gridWidth": 1.5,
        "labelFont": "Liberation Sans", "labelFontWeight": "bold", "labelFontSize": 11.5, "labelPadding": 1.5, "labelOverlap": false,
        "titleFont": "Liberation Sans", "titleFontWeight": "bold", "titleFontSize": 14, "titlePadding": 6}},
    "color": {"field": "s", "type": "nominal",
      "scale": {"domain": ["AnpeNPV","CmNPV","ChocNPV","CrNPV","EppoNPV","HycuNPV","RaouMNPV","OpMNPV","MvMNPV","BmNPV","BmaNPV","AgNPV","AcNPV","CfDEFMNPV","CfMNPV","CvMNPV","PlxyNPV","ToNPV"],
        "range": ["#ff0000","#0000ff","#00ee00","#cc00cc","#ff7f27","#ffff00","#ff0000","#0000ff","#00ee00","#cc3399","#ff7f27","#ffff00","#ffb6d9","#006400","#990044","#ffff99","#c0ffc0","#8080e0"]},
      "legend": {"legendX": 116.5, "legendY": -102}},
    "strokeDash": {"field": "s", "type": "nominal",
      "scale": {"domain": ["AnpeNPV","CmNPV","ChocNPV","CrNPV","EppoNPV","HycuNPV","RaouMNPV","OpMNPV","MvMNPV","BmNPV","BmaNPV","AgNPV","AcNPV","CfDEFMNPV","CfMNPV","CvMNPV","PlxyNPV","ToNPV"],
        "range": [[1,0],[1,0],[1,0],[1,0],[1,0],[1,0],[5,3],[5,3],[5,3],[5,3],[5,3],[5,3],[1,0],[1,0],[1,0],[1,0],[1,0],[1,0]]},
      "legend": {"legendX": 116.5, "legendY": -102}}
  }
}
]
}
